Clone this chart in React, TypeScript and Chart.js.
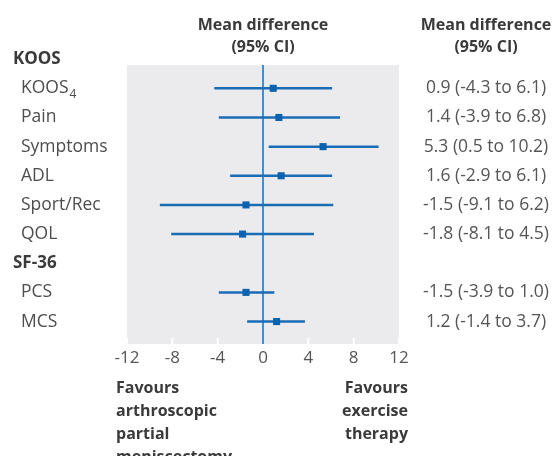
import React, { useEffect, useRef } from "react";
import { Chart, registerables } from "chart.js";

Chart.register(...registerables);

const rowLabels = ["KOOS", "KOOS", "Pain", "Symptoms", "ADL", "Sport/Rec", "QOL", "SF-36", "PCS", "MCS"];
const rowSubscripts = ["", "4", "", "", "", "", "", "", "", ""];
const rowIsHeader = [true, false, false, false, false, false, false, true, false, false];
const means: (number | null)[] = [null, 0.9, 1.4, 5.3, 1.6, -1.5, -1.8, null, -1.5, 1.2];
const lower: (number | null)[] = [null, -4.3, -3.9, 0.5, -2.9, -9.1, -8.1, null, -3.9, -1.4];
const upper: (number | null)[] = [null, 6.1, 6.8, 10.2, 6.1, 6.2, 4.5, null, 1.0, 3.7];
const valueLabels = [
  "",
  "0.9 (-4.3 to 6.1)",
  "1.4 (-3.9 to 6.8)",
  "5.3 (0.5 to 10.2)",
  "1.6 (-2.9 to 6.1)",
  "-1.5 (-9.1 to 6.2)",
  "-1.8 (-8.1 to 4.5)",
  "",
  "-1.5 (-3.9 to 1.0)",
  "1.2 (-1.4 to 3.7)",
];
const xMin = -12;
const xMax = 12;
const xStep = 4;
const headerLines = ["Mean difference", "(95% CI)"];
const leftFavours = ["Favours", "arthroscopic", "partial", "meniscectomy"];
const rightFavours = ["Favours", "exercise", "therapy"];

const FONT = "'Open Sans', 'Noto Sans', sans-serif";
const Y_MIN = 0.2;
const Y_MAX = 9.77;

export default function App() {
  const ref = useRef<HTMLCanvasElement | null>(null);

  useEffect(() => {
    if (!ref.current) return;

    const ciDatasets: any[] = [];
    means.forEach((m, i) => {
      if (m === null) return;
      ciDatasets.push({
        type: "scatter",
        showLine: true,
        data: [
          { x: lower[i], y: i },
          { x: upper[i], y: i },
        ],
        borderColor: "#1a6db5",
        borderWidth: 2.5,
        pointRadius: 0,
        order: 2,
      });
    });

    const pointData = means
      .map((m, i) => (m === null ? null : { x: m, y: i }))
      .filter((p) => p !== null);

    const decor = {
      id: "forestDecor",
      beforeDatasetsDraw(chart: any) {
        const { ctx, chartArea } = chart;
        const xs = chart.scales.x;
        ctx.save();
        ctx.fillStyle = "#ebebed";
        ctx.fillRect(chartArea.left, chartArea.top, chartArea.right - chartArea.left, chartArea.bottom - chartArea.top);
        ctx.strokeStyle = "#ffffff";
        ctx.lineWidth = 2;
        xs.ticks.forEach((t: any) => {
          const px = xs.getPixelForValue(t.value);
          ctx.beginPath();
          ctx.moveTo(px, chartArea.bottom - 6);
          ctx.lineTo(px, chartArea.bottom);
          ctx.stroke();
        });
        const zx = xs.getPixelForValue(0);
        ctx.strokeStyle = "#3f8fd2";
        ctx.lineWidth = 2;
        ctx.beginPath();
        ctx.moveTo(zx, chartArea.top);
        ctx.lineTo(zx, chartArea.bottom);
        ctx.stroke();
        ctx.restore();
      },
      afterDraw(chart: any) {
        const { ctx, chartArea } = chart;
        const ys = chart.scales.y;
        const xs = chart.scales.x;
        ctx.save();
        ctx.textBaseline = "middle";
        rowLabels.forEach((lab, i) => {
          const py = ys.getPixelForValue(i);
          if (rowIsHeader[i]) {
            ctx.font = `bold 17px ${FONT}`;
            ctx.fillStyle = "#3a3a3a";
            ctx.textAlign = "left";
            ctx.fillText(lab, 13, py);
          } else {
            ctx.font = `17.5px ${FONT}`;
            ctx.fillStyle = "#4d4d4d";
            ctx.textAlign = "left";
            ctx.fillText(lab, 21, py);
            if (rowSubscripts[i]) {
              const w = ctx.measureText(lab).width;
              ctx.font = `12px ${FONT}`;
              ctx.fillText(rowSubscripts[i], 21 + w + 1, py + 6);
            }
          }
          if (valueLabels[i]) {
            ctx.font = `17.5px ${FONT}`;
            ctx.fillStyle = "#555555";
            ctx.textAlign = "center";
            ctx.fillText(valueLabels[i], 486, py);
          }
        });
        ctx.font = `bold 16px ${FONT}`;
        ctx.fillStyle = "#3a3a3a";
        ctx.textAlign = "center";
        const cx = xs.getPixelForValue(0);
        headerLines.forEach((h, k) => {
          ctx.fillText(h, cx, 25 + k * 22);
          ctx.fillText(h, 486, 25 + k * 22);
        });
        ctx.textAlign = "left";
        leftFavours.forEach((t, k) => {
          ctx.fillText(t, 116, chartArea.bottom + 44 + k * 23);
        });
        ctx.textAlign = "right";
        rightFavours.forEach((t, k) => {
          ctx.fillText(t, 408, chartArea.bottom + 44 + k * 23);
        });
        ctx.restore();
      },
    };

    const chart = new Chart(ref.current, {
      type: "scatter",
      data: {
        datasets: [
          ...ciDatasets,
          {
            type: "scatter",
            data: pointData as any,
            pointStyle: "rect",
            pointRadius: 5,
            backgroundColor: "#0b62b0",
            borderWidth: 0,
            order: 1,
          },
        ],
      },
      options: {
        responsive: false,
        animation: false,
        events: [],
        layout: { padding: { left: 127, right: 156, top: 65, bottom: 0 } },
        plugins: { legend: { display: false }, tooltip: { enabled: false } },
        scales: {
          x: {
            type: "linear",
            min: xMin,
            max: xMax,
            ticks: {
              stepSize: xStep,
              font: { family: FONT, size: 17 },
              color: "#555555",
              padding: 4,
            },
            grid: { display: false, drawTicks: false },
            border: { display: false },
            afterFit: (s: any) => {
              s.height = 112;
            },
          },
          y: {
            type: "linear",
            min: Y_MIN,
            max: Y_MAX,
            reverse: true,
            display: false,
          },
        },
      },
      plugins: [decor],
    });
    return () => chart.destroy();
  }, []);

  return (
    <div style={{ position: "fixed", left: 0, top: 0, width: 555, height: 456, background: "#fff" }}>
      <canvas ref={ref} width={555} height={456} style={{ display: "block" }} />
    </div>
  );
}
